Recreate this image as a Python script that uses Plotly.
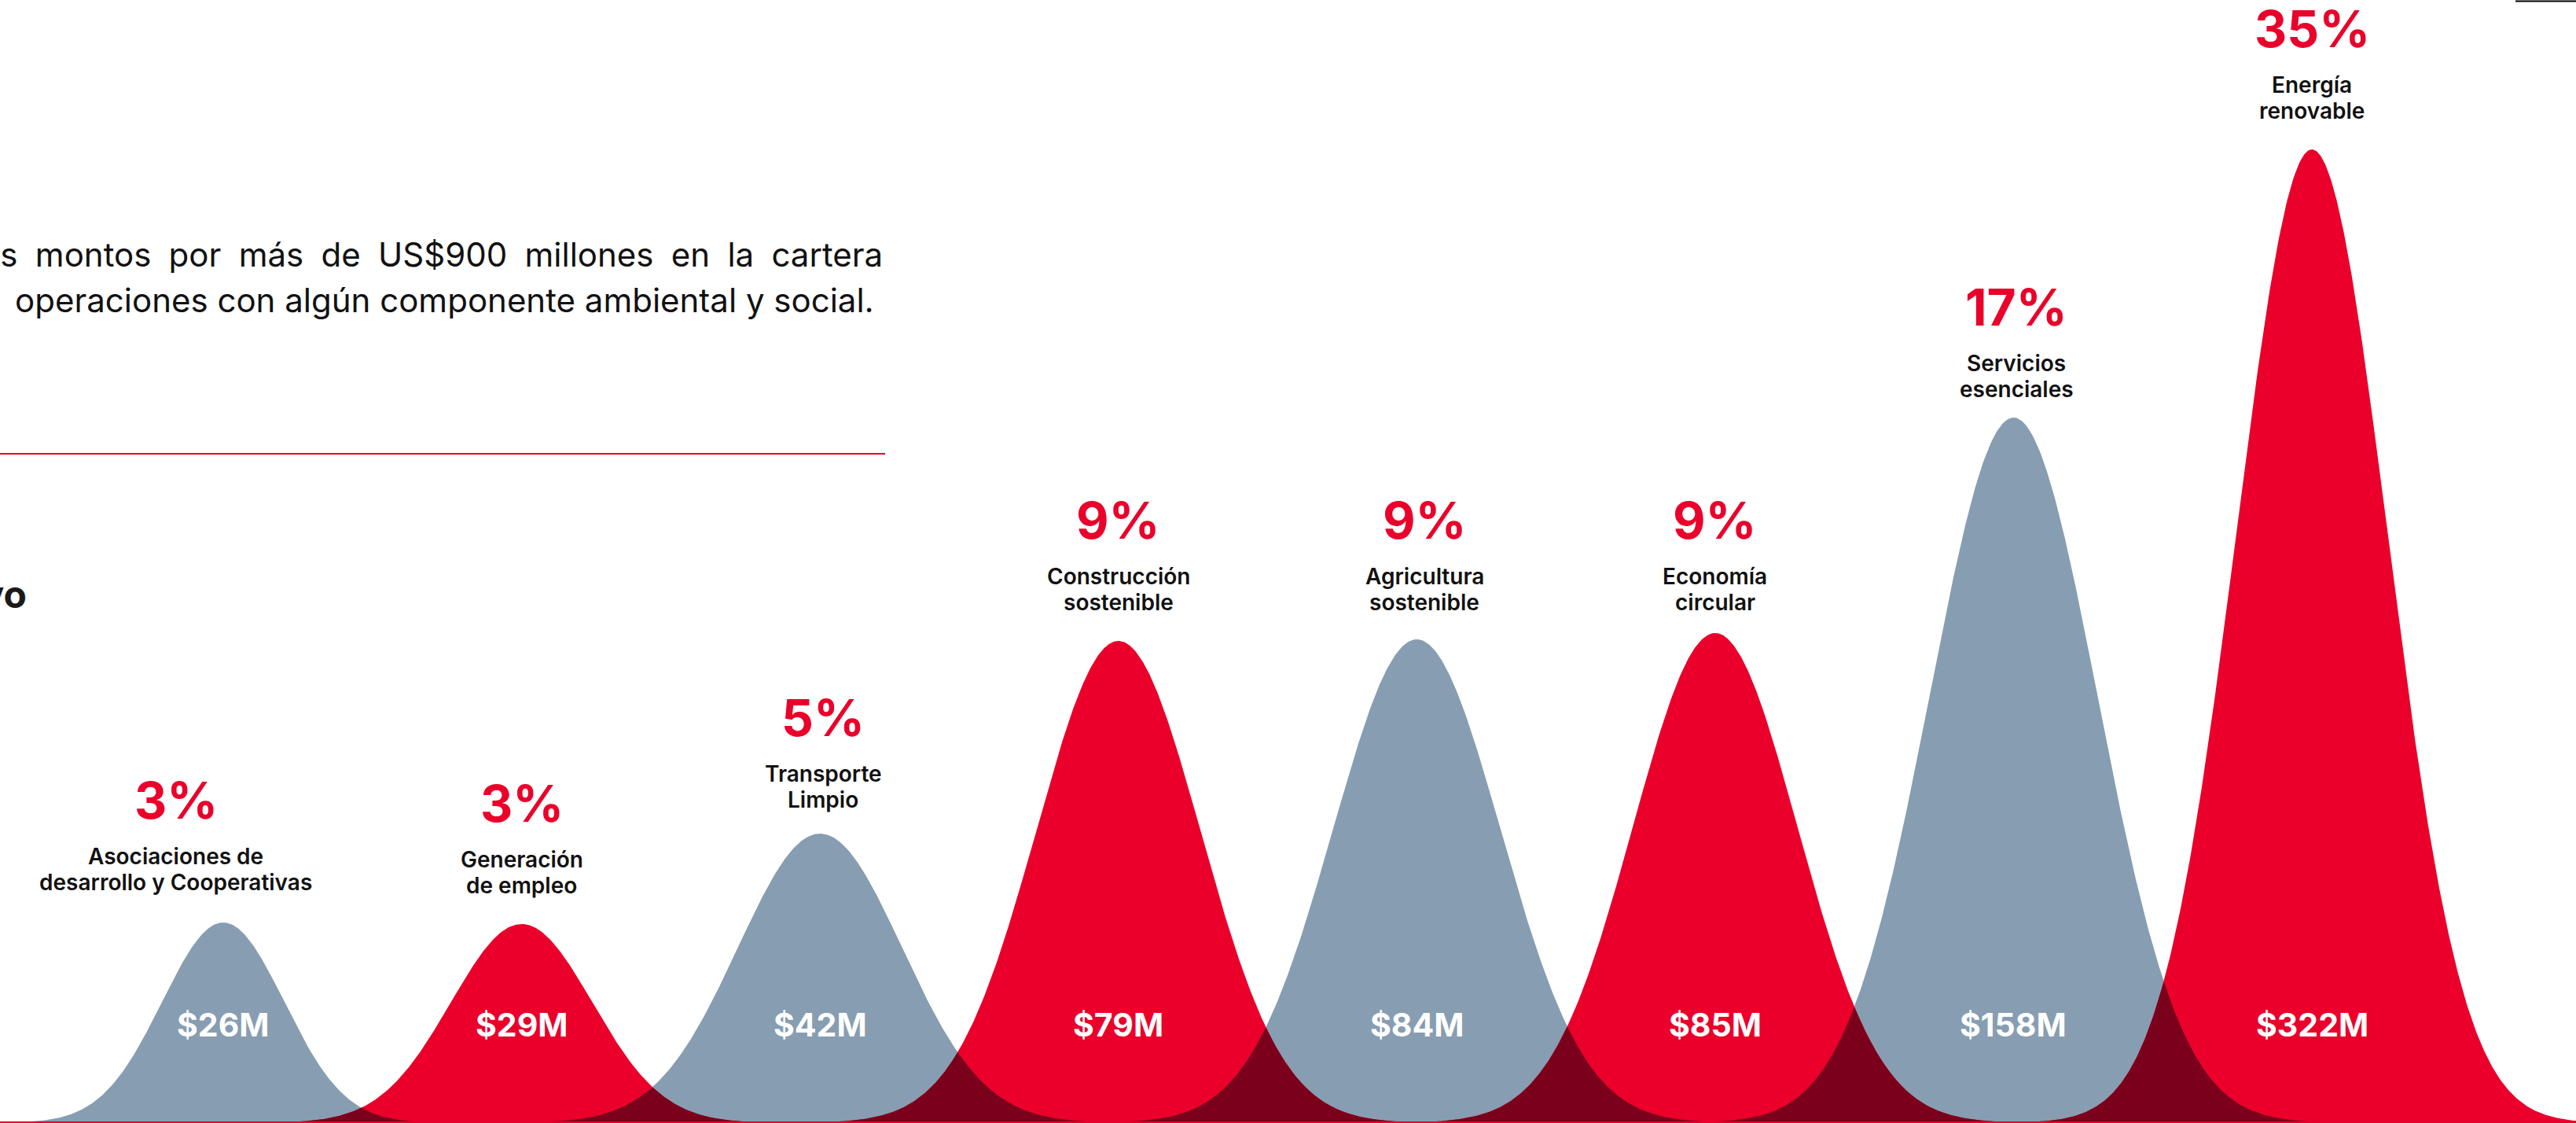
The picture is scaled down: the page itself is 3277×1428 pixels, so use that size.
import numpy as np
import plotly.graph_objects as go

# ---------------- data ----------------
categories = [
    "Asociaciones de<br>desarrollo y Cooperativas",
    "Generación<br>de empleo",
    "Transporte<br>Limpio",
    "Construcción<br>sostenible",
    "Agricultura<br>sostenible",
    "Economía<br>circular",
    "Servicios<br>esenciales",
    "Energía<br>renovable",
]
amounts_musd = [26, 29, 42, 79, 84, 85, 158, 322]
amount_labels = ["$26M", "$29M", "$42M", "$79M", "$84M", "$85M", "$158M", "$322M"]
share_labels = ["3%", "3%", "5%", "9%", "9%", "9%", "17%", "35%"]
# drawn peak height of each bell (y-axis units)
peak_heights = [255, 253, 368, 613, 615, 623, 897, 1238]
# spread (std. dev.) of each bell, in category-spacing units
spreads = [0.204, 0.237, 0.275, 0.275, 0.281, 0.275, 0.281, 0.253]
series_color = ["gray", "red", "gray", "red", "gray", "red", "gray", "red"]

paragraph_lines = [
    "los montos por más de US$900 millones en la cartera",
    "operaciones con algún componente ambiental y social.",
]

# ---------------- style ----------------
W, H = 3277, 1428
RED = "#EA002A"
GRAY = "#879DB2"
DARK = "#7A001C"
FILL = {"red": RED, "gray": GRAY}
FONT = "Inter, Roboto, 'Open Sans', sans-serif"
# nudges (px) of the text block above each bell
label_nudge_x = [-60, 0, 4, 0, 10, 0, 4, 0]
label_nudge_y = [0, -2, -8, -2, -4, -12, -15, -2]

x_pos = np.arange(len(categories), dtype=float)
xr = [-0.748, 7.885]
yr = [0, H]

xs = np.linspace(xr[0] - 0.05, xr[1] + 0.05, 2600)


def bell(i):
    return peak_heights[i] * np.exp(-0.5 * ((xs - x_pos[i]) / spreads[i]) ** 2)


curves = [bell(i) for i in range(len(categories))]

fig = go.Figure()

# gray bells first, then red bells, then dark overlaps
for colr in ["gray", "red"]:
    for i, c in enumerate(series_color):
        if c != colr:
            continue
        fig.add_trace(go.Scatter(
            x=xs, y=curves[i], mode="lines", fill="tozeroy",
            fillcolor=FILL[c], line=dict(width=0, color=FILL[c]),
            hoverinfo="skip", showlegend=False,
        ))

for i in range(len(categories) - 1):
    ov = np.minimum(curves[i], curves[i + 1])
    fig.add_trace(go.Scatter(
        x=xs, y=ov, mode="lines", fill="tozeroy",
        fillcolor=DARK, line=dict(width=0, color=DARK),
        hoverinfo="skip", showlegend=False,
    ))

annotations = []
for i in range(len(categories)):
    ph = peak_heights[i]
    nx = label_nudge_x[i]
    ny = label_nudge_y[i]
    # percentage
    annotations.append(dict(
        x=x_pos[i], y=ph, xref="x", yref="y", text=share_labels[i],
        showarrow=False, xanchor="center", yanchor="middle",
        xshift=nx, yshift=156 + ny,
        font=dict(family=FONT, size=64, color=RED, weight=700),
    ))
    # category (two lines)
    lines = categories[i].split("<br>")
    for k, ln in enumerate(lines):
        annotations.append(dict(
            x=x_pos[i], y=ph, xref="x", yref="y", text=ln,
            showarrow=False, xanchor="center", yanchor="middle",
            xshift=nx, yshift=(84 if k == 0 else 51) + ny,
            font=dict(family=FONT, size=28, color="#111111", weight=600),
        ))
    # amount
    annotations.append(dict(
        x=x_pos[i], y=125, xref="x", yref="y", text=amount_labels[i],
        showarrow=False, xanchor="center", yanchor="middle",
        font=dict(family=FONT, size=41, color="white", weight=700),
    ))


def px(x):
    return x / W


def py(y):
    return 1 - y / H


# paragraph text (cut at the left edge like the reference, line 1 justified)
line1 = "\u00a0\u2005".join(paragraph_lines[0].split(" "))
annotations.append(dict(
    x=px(1125), y=py(324), xref="paper", yref="paper", text=line1,
    showarrow=False, xanchor="right", yanchor="middle",
    font=dict(family=FONT, size=42, color="#111111", weight=400),
))
annotations.append(dict(
    x=px(17), y=py(382), xref="paper", yref="paper", text=paragraph_lines[1],
    showarrow=False, xanchor="left", yanchor="middle",
    font=dict(family=FONT, size=42, color="#111111", weight=400),
))
# bold heading fragment cut at left edge
annotations.append(dict(
    x=px(36), y=py(755), xref="paper", yref="paper", text="tivo",
    showarrow=False, xanchor="right", yanchor="middle",
    font=dict(family=FONT, size=48, color="#1a1a1a", weight=700),
))

shapes = [
    dict(type="line", xref="paper", yref="paper", x0=0, x1=px(1126),
         y0=py(577), y1=py(577), line=dict(color="#E4002B", width=2)),
    dict(type="line", xref="paper", yref="paper", x0=0, x1=1,
         y0=py(1427), y1=py(1427), line=dict(color="#E4002B", width=2)),
    dict(type="line", xref="paper", yref="paper", x0=px(3200), x1=1,
         y0=py(1.5), y1=py(1.5), line=dict(color="#000000", width=2)),
]

fig.update_layout(
    width=W, height=H, autosize=False,
    margin=dict(l=0, r=0, t=0, b=0, pad=0),
    paper_bgcolor="white", plot_bgcolor="white",
    xaxis=dict(range=xr, visible=False, fixedrange=True),
    yaxis=dict(range=yr, visible=False, fixedrange=True),
    annotations=annotations, shapes=shapes,
    showlegend=False,
)

fig.write_html(
    "out.html",
    include_plotlyjs=True,
    config={"displayModeBar": False, "staticPlot": True},
    post_script="document.body.style.margin='0';document.body.style.overflow='hidden';",
)
